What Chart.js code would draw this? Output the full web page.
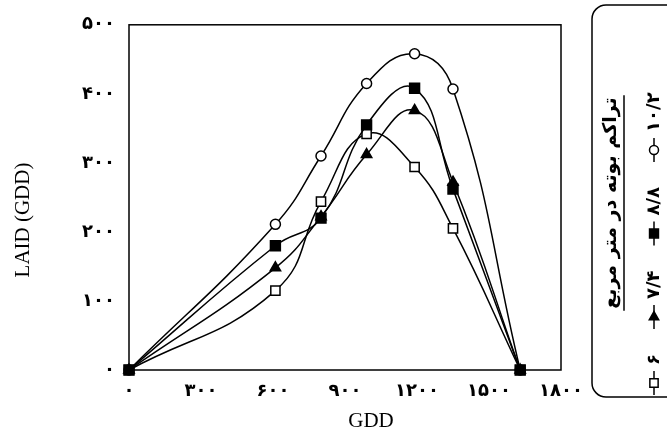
<!DOCTYPE html>
<html>
<head>
<meta charset="utf-8">
<script src="https://cdn.jsdelivr.net/npm/chart.js@4.4.1/dist/chart.umd.min.js"></script>
<style>
  html, body { margin: 0; padding: 0; background: #fff; }
  #wrap { width: 667px; height: 433px; }
</style>
</head>
<body>
<div id="wrap"><canvas id="chart" width="667" height="433"></canvas></div>
<script>
// GDD values of the sampling dates
const gdd = [0, 610, 800, 990, 1190, 1350, 1630];

// LAID per plant density (plants per m2)
const laid102 = [0, 211, 310, 415, 458, 407, 0];
const laid88 = [0, 180, 220, 355, 408, 262, 0];
const laid74 = [0, 148, 222, 312, 376, 272, 0];
const laid6 = [0, 115, 244, 342, 294, 205, 0];

const seriesLabels = ['۱۰/۲', '۸/۸', '۷/۴', '۶'];
const legendTitle = 'تراکم بوته در متر مربع';

const xTickLabels = ['۰', '۳۰۰', '۶۰۰', '۹۰۰', '۱۲۰۰', '۱۵۰۰', '۱۸۰۰'];
const yTickLabels = ['۰', '۱۰۰', '۲۰۰', '۳۰۰', '۴۰۰', '۵۰۰'];

const xTitle = 'GDD';
const yTitle = 'LAID (GDD)';

function toPoints(ys) {
    return ys.map((y, i) => ({ x: gdd[i], y: y }));
}

const styles = [
    { pointStyle: 'circle', radius: 5, fill: '#fff' },
    { pointStyle: 'rect', radius: 7, fill: '#000' },
    { pointStyle: 'triangle', radius: 6, fill: '#000' },
    { pointStyle: 'rect', radius: 6.5, fill: '#fff' }
];
const allSeries = [laid102, laid88, laid74, laid6];

const datasets = allSeries.map((ys, i) => ({
    label: seriesLabels[i],
    data: toPoints(ys),
    borderColor: '#000',
    borderWidth: 1.5,
    tension: 0.45,
    pointStyle: styles[i].pointStyle,
    pointRadius: styles[i].radius,
    pointBackgroundColor: styles[i].fill,
    pointBorderColor: '#000',
    pointBorderWidth: 1.5,
    clip: false,
    order: i === 1 ? 0 : 1
}));

// box round the plot, axis titles, and the rotated legend on the right
const decorations = {
    id: 'decorations',
    afterDraw(chart) {
        const ctx = chart.ctx;
        const a = chart.chartArea;
        ctx.save();
        ctx.strokeStyle = '#000';
        ctx.lineWidth = 1.5;
        ctx.strokeRect(a.left, a.top, a.right - a.left, a.bottom - a.top);

        // axis titles
        ctx.fillStyle = '#000';
        ctx.font = '21px "Liberation Serif"';
        ctx.textAlign = 'center';
        ctx.textBaseline = 'middle';
        ctx.fillText(xTitle, 371, 421);
        ctx.save();
        ctx.translate(23, 220);
        ctx.rotate(-Math.PI / 2);
        ctx.fillText(yTitle, 0, 0);
        ctx.restore();

        // legend frame
        ctx.beginPath();
        ctx.roundRect(592, 5, 100, 392, 14);
        ctx.stroke();

        // legend title, rotated, underlined
        ctx.save();
        ctx.translate(611, 203);
        ctx.rotate(-Math.PI / 2);
        ctx.font = 'bold 19px "DejaVu Sans"';
        ctx.textAlign = 'center';
        ctx.textBaseline = 'middle';
        ctx.fillText(legendTitle, 0, 0);
        const tw = ctx.measureText(legendTitle).width;
        ctx.lineWidth = 1.5;
        ctx.beginPath();
        ctx.moveTo(-tw / 2 - 2, 13);
        ctx.lineTo(tw / 2 + 2, 13);
        ctx.stroke();
        ctx.restore();

        // legend entries, read bottom to top
        ctx.font = 'bold 18px "DejaVu Sans"';
        const colX = 654;
        let m = 383;
        for (let i = datasets.length - 1; i >= 0; i--) {
            const ds = datasets[i];
            ctx.lineWidth = 1.5;
            ctx.beginPath();
            ctx.moveTo(colX, m + 12);
            ctx.lineTo(colX, m - 12);
            ctx.stroke();
            ctx.fillStyle = ds.pointBackgroundColor;
            ctx.strokeStyle = '#000';
            Chart.helpers.drawPoint(ctx, {
                pointStyle: ds.pointStyle,
                radius: ds.pointRadius * 0.9,
                rotation: 0,
                borderWidth: 1.5
            }, colX, m);
            ctx.fillStyle = '#000';
            const w = ctx.measureText(ds.label).width;
            ctx.save();
            ctx.translate(colX, m - 18);
            ctx.rotate(-Math.PI / 2);
            ctx.textAlign = 'left';
            ctx.textBaseline = 'middle';
            ctx.fillText(ds.label, 0, 0);
            ctx.restore();
            m = m - 18 - w - 37;
        }
        ctx.restore();
    }
};

const ctx = document.getElementById('chart').getContext('2d');
const chart = new Chart(ctx, {
    type: 'line',
    data: { datasets: datasets },
    options: {
        responsive: false,
        animation: false,
        events: [],
        layout: { padding: { left: 0, right: 106, top: 22, bottom: 0 } },
        plugins: {
            legend: { display: false },
            tooltip: { enabled: false }
        },
        scales: {
            x: {
                type: 'linear',
                min: 0,
                max: 1800,
                ticks: {
                    stepSize: 300,
                    color: '#000',
                    padding: 11,
                    maxRotation: 0,
                    font: { family: 'DejaVu Sans', size: 18, weight: 'bold' },
                    callback: (v, i) => xTickLabels[i]
                },
                grid: { display: false, drawTicks: false },
                border: { display: false },
                afterFit: (s) => { s.height = 63; }
            },
            y: {
                min: 0,
                max: 500,
                ticks: {
                    stepSize: 100,
                    color: '#000',
                    padding: 14,
                    font: { family: 'DejaVu Sans', size: 18, weight: 'bold' },
                    callback: (v, i) => yTickLabels[i]
                },
                grid: { display: false, drawTicks: false },
                border: { display: false },
                afterFit: (s) => { s.width = 129; }
            }
        }
    },
    plugins: [decorations]
});
</script>
</body>
</html>
